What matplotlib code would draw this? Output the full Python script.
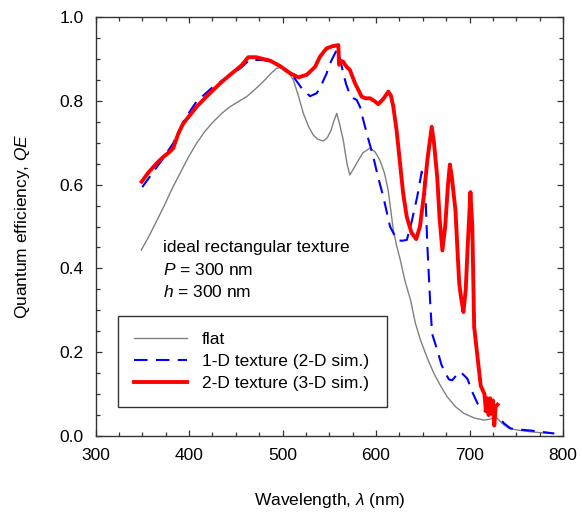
import matplotlib
matplotlib.use("Agg")
import matplotlib.pyplot as plt
from matplotlib.ticker import MultipleLocator

plt.rcParams['font.family'] = ['Liberation Sans', 'DejaVu Sans']
plt.rcParams['mathtext.fontset'] = 'custom'
plt.rcParams['mathtext.rm'] = 'Liberation Sans'
plt.rcParams['mathtext.it'] = 'Liberation Sans:italic'

# ---- data ----
flat_x = [349, 357, 364, 372.5, 381, 390.4, 399, 408.2, 417, 426, 435, 443.9, 452, 461.7, 470,
          479.5, 487, 493.8, 499, 504.5, 508, 511.6, 517, 522.3, 528, 533, 538, 543.6, 548, 552,
          555, 558, 561, 565, 569, 572, 576, 579.4, 586, 593.6, 599, 604, 609, 613, 618.5, 622,
          626, 631, 637, 642, 647.6, 655, 662, 669, 676, 685, 694, 705, 715.5, 722, 728, 735, 742,
          755, 765.6, 780, 790]
flat_y = [0.444, 0.476, 0.507, 0.545, 0.586, 0.627, 0.664, 0.699, 0.727, 0.750, 0.770, 0.786, 0.797,
          0.810, 0.826, 0.846, 0.864, 0.878, 0.879, 0.870, 0.862, 0.850, 0.812, 0.770, 0.738, 0.718,
          0.708, 0.704, 0.712, 0.730, 0.752, 0.770, 0.745, 0.706, 0.650, 0.623, 0.638, 0.651, 0.676,
          0.687, 0.678, 0.659, 0.628, 0.587, 0.492, 0.455, 0.420, 0.37, 0.324, 0.27, 0.229, 0.185,
          0.149, 0.12, 0.094, 0.07, 0.054, 0.043, 0.038, 0.040, 0.046, 0.03, 0.018, 0.013, 0.010,
          0.007, 0.006]

tex1d_x = [350, 360, 370, 383.2, 395, 408, 426, 440, 455, 465, 480, 493.8, 503, 511.6, 520.5,
           529.4, 536.5, 540, 547.3, 550.8, 555, 558, 561, 565, 568, 572.2, 576, 579.4, 583, 586.4,
           591, 597, 602, 607.8, 615, 622.6, 628, 633, 638, 644, 648.9, 651, 653, 655, 658, 660,
           665.5, 670, 674.5, 678, 681.6, 686, 690.6, 694, 697.7, 703, 708.5, 717, 723, 730, 737,
           744, 755, 765.6, 780, 790.6]
tex1d_y = [0.594, 0.625, 0.655, 0.699, 0.755, 0.798, 0.834, 0.855, 0.878, 0.898, 0.897, 0.889,
           0.872, 0.858, 0.830, 0.811, 0.818, 0.830, 0.866, 0.889, 0.908, 0.921, 0.905, 0.866, 0.840,
           0.814, 0.806, 0.802, 0.785, 0.754, 0.715, 0.667, 0.620, 0.571, 0.500, 0.467, 0.466, 0.468,
           0.51, 0.570, 0.631, 0.615, 0.570, 0.45, 0.317, 0.244, 0.205, 0.17, 0.149, 0.135, 0.133,
           0.145, 0.153, 0.145, 0.137, 0.105, 0.078, 0.058, 0.052, 0.048, 0.03, 0.018, 0.015, 0.013,
           0.009, 0.006]

tex2d_x = [349.4, 357, 365.5, 372, 379.7, 383.2, 388.6, 393.9, 400, 408.2, 417, 426, 435, 443.9,
           450, 456.4, 463.4, 472, 479, 486.6, 497.3, 508, 517, 525.9, 534.8, 540, 547, 553, 559.7,
           560.5, 563, 565, 567, 569, 572, 577.5, 584.7, 589, 593.6, 598, 602.5, 608, 613.2, 616,
           618.5, 622, 625.7, 629, 632.8, 638, 643, 647, 651, 655, 659.6, 662, 665.5, 668, 671, 674,
           677, 679, 681, 685, 687, 689, 691, 693.5, 696, 698, 701, 703, 705, 708.5, 712, 714, 716,
           717.5, 719, 720.5, 722, 723.5, 725, 726.5, 728, 730]
tex2d_y = [0.607, 0.630, 0.651, 0.665, 0.679, 0.687, 0.722, 0.746, 0.763, 0.786, 0.806, 0.826,
           0.845, 0.862, 0.873, 0.885, 0.904, 0.904, 0.900, 0.896, 0.883, 0.866, 0.856, 0.862, 0.881,
           0.905, 0.925, 0.930, 0.933, 0.886, 0.895, 0.893, 0.886, 0.880, 0.874, 0.842, 0.810, 0.806,
           0.806, 0.800, 0.792, 0.805, 0.822, 0.812, 0.786, 0.73, 0.651, 0.58, 0.524, 0.485, 0.470,
           0.50, 0.57, 0.66, 0.738, 0.70, 0.617, 0.52, 0.443, 0.50, 0.60, 0.648, 0.62, 0.538, 0.45,
           0.364, 0.33, 0.296, 0.35, 0.45, 0.582, 0.50, 0.26, 0.19, 0.12, 0.11, 0.10, 0.06, 0.09,
           0.05, 0.09, 0.06, 0.085, 0.025, 0.07, 0.075]

labels = ['flat', '1-D texture (2-D sim.)', '2-D texture (3-D sim.)']
x_ticks = [300, 400, 500, 600, 700, 800]
y_ticks = [0.0, 0.2, 0.4, 0.6, 0.8, 1.0]

# ---- figure ----
fig = plt.figure(figsize=(5.82, 5.22), dpi=100)
ax = fig.add_axes([95.5 / 582, 1 - 436 / 522, 467.5 / 582, 419 / 522])

ax.plot(flat_x, flat_y, color='#808080', lw=1.0, label=labels[0])
ax.plot(tex1d_x, tex1d_y, color='#0000ff', lw=1.5, dashes=(6.5, 4), label=labels[1])
ax.plot(tex2d_x, tex2d_y, color='#ff0000', lw=2.8, label=labels[2])

ax.set_xlim(300, 800)
ax.set_ylim(0, 1.0)
ax.set_xticks(x_ticks)
ax.set_xticklabels([str(v) for v in x_ticks])
ax.set_yticks(y_ticks)
ax.set_yticklabels([f'{v:.1f}' for v in y_ticks])
ax.xaxis.set_minor_locator(MultipleLocator(25))
ax.yaxis.set_minor_locator(MultipleLocator(0.05))
ax.tick_params(which='both', direction='in', top=True, right=True, labelsize=12.5,
               color='#333333', pad=8.5, width=0.9)
ax.tick_params(which='major', length=4.5)
ax.tick_params(which='minor', length=3)
for s in ax.spines.values():
    s.set_color('#333333')
    s.set_linewidth(1.0)

ax.set_xlabel(r'Wavelength, $\it{\lambda}$ (nm)', fontsize=12.5, labelpad=20)
ax.set_ylabel(r'Quantum efficiency, $\it{QE}$', fontsize=12.5, labelpad=20)

ax.text(372, 0.439, 'ideal rectangular texture', fontsize=12.5, va='baseline', ha='left')
ax.text(372, 0.385, r'$\it{P}$ = 300 nm', fontsize=12.5, va='baseline', ha='left')
ax.text(372, 0.331, r'$\it{h}$ = 300 nm', fontsize=12.5, va='baseline', ha='left')

leg = ax.legend(loc='lower left', bbox_to_anchor=(0.048, 0.069, 0.5755, 0.222), mode='expand',
                fontsize=12.5, handlelength=3.1, handletextpad=0.85, borderpad=0.9,
                labelspacing=0.4, fancybox=False, framealpha=1, borderaxespad=0)
leg.get_frame().set_edgecolor('#333333')
leg.get_frame().set_linewidth(1.0)

fig.savefig('out.png', dpi=100)
